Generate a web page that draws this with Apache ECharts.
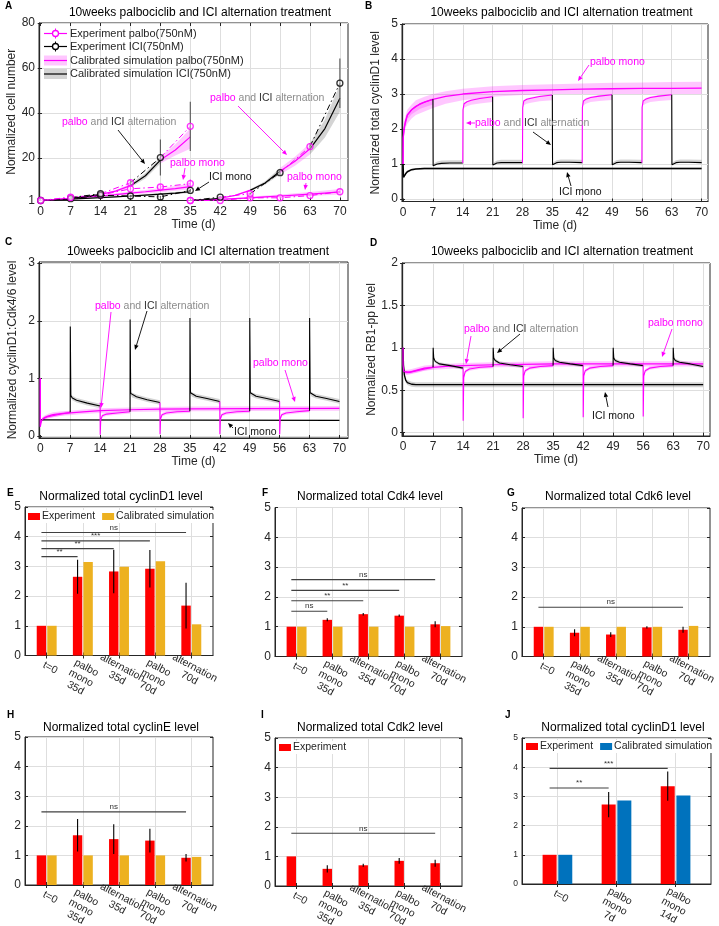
<!DOCTYPE html>
<html><head><meta charset="utf-8">
<script src="https://cdn.jsdelivr.net/npm/echarts@6/dist/echarts.min.js"></script>
<style>html,body{margin:0;padding:0;background:#fff}#c{width:719px;height:926px}</style>
</head><body><div id="c"></div><script>
// ================= DATA =================
const dayTicks = [0,7,14,21,28,35,42,49,56,63,70];
// ---- Panel A: normalized cell number
const weeksA1 = [0,7,14,21,28,35];
const weeksA2 = [35,42,49,56,63,70];
const altExpA1 = [1, 2.3, 4.0, 8.9, 20.1, 34.0];
const altExpA1Err = [0, 0.4, 0.6, 1.2, 8.0, 11.0];
const altExpA2 = [1, 2.5, 4.0, 13.4, 25.0, 53.2];
const altExpA2Err = [0, 0.4, 0.6, 1.0, 1.5, 11.0];
const palboExpA1 = [1, 2.5, 3.4, 6.2, 7.0, 8.5];
const palboExpA1Err = [0, 0.3, 0.4, 0.8, 1.0, 1.8];
const palboExpA2 = [1, 1.0, 2.2, 2.2, 3.2, 4.9];
const palboExpA2Err = [0, 0.2, 0.4, 0.3, 0.4, 0.6];
const iciExpA1 = [1, 1.8, 3.3, 3.0, 2.6, 5.5];
const iciExpA1Err = [0, 0.2, 0.4, 0.4, 0.4, 0.6];
const simTA1 = [0, 3.5, 7, 10.5, 14, 17.5, 21, 24.5, 28, 31.5, 35];
const altSimA1 = [1, 1.45, 2.0, 2.7, 3.7, 5.2, 7.6, 12.0, 19.0, 23.5, 29.3];
const altSimA1Lo = [1, 1.4, 1.9, 2.5, 3.4, 4.7, 6.8, 10.8, 17.5, 21.0, 24.0];
const altSimA1Hi = [1, 1.5, 2.1, 2.9, 4.0, 5.7, 8.4, 13.2, 20.6, 26.0, 33.0];
const palboSimA1 = [1, 1.45, 2.0, 2.5, 3.0, 3.6, 4.3, 4.9, 5.6, 6.3, 7.2];
const palboSimA1Lo = [1, 1.35, 1.8, 2.2, 2.6, 3.1, 3.6, 4.1, 4.7, 5.3, 6.0];
const palboSimA1Hi = [1, 1.6, 2.3, 2.9, 3.5, 4.2, 5.0, 5.7, 6.6, 7.5, 8.6];
const iciSimA1 = [1, 1.3, 1.6, 1.95, 2.3, 2.65, 3.0, 3.4, 3.8, 4.3, 4.9];
const iciSimA1Lo = [1, 1.25, 1.5, 1.8, 2.1, 2.4, 2.7, 3.0, 3.4, 3.8, 4.3];
const iciSimA1Hi = [1, 1.35, 1.7, 2.1, 2.5, 2.9, 3.3, 3.8, 4.3, 4.8, 5.6];
const simTA2 = [35, 38.5, 42, 45.5, 49, 52.5, 56, 59.5, 63, 66.5, 70];
const altSimA2 = [1, 1.4, 2.0, 3.3, 5.5, 8.8, 14.0, 18.5, 24.0, 33.0, 46.5];
const altSimA2Lo = [1, 1.35, 1.85, 3.0, 5.0, 8.0, 12.6, 16.5, 21.5, 29.0, 40.5];
const altSimA2Hi = [1, 1.45, 2.15, 3.6, 6.0, 9.6, 15.5, 20.5, 26.5, 37.0, 52.5];
const palboSimA2 = [1, 1.25, 1.5, 1.85, 2.2, 2.6, 3.0, 3.4, 3.8, 4.3, 4.8];
const palboSimA2Lo = [1, 1.15, 1.3, 1.55, 1.8, 2.1, 2.4, 2.7, 3.0, 3.3, 3.7];
const palboSimA2Hi = [1, 1.4, 1.8, 2.2, 2.7, 3.2, 3.7, 4.2, 4.8, 5.4, 6.1];

// ---- Panel B: total cyclinD1
const palboTB = [0, 0.05, 0.2, 0.5, 1, 2, 3, 5, 7, 10, 14, 21, 28, 35, 42, 49, 56, 63, 70];
const palboB = [1, 1.75, 2.0, 2.2, 2.4, 2.55, 2.65, 2.77, 2.85, 2.93, 3.0, 3.07, 3.1, 3.12, 3.14, 3.15, 3.16, 3.16, 3.17];
const palboBLo = [1, 1.6, 1.8, 2.0, 2.15, 2.3, 2.4, 2.5, 2.6, 2.72, 2.82, 2.92, 2.97, 3.0, 3.0, 3.0, 3.0, 3.0, 3.0];
const palboBHi = [1, 1.9, 2.15, 2.35, 2.55, 2.7, 2.82, 2.92, 3.0, 3.08, 3.15, 3.22, 3.26, 3.28, 3.3, 3.32, 3.33, 3.34, 3.35];
const iciTB = [0, 0.1, 0.3, 0.6, 1, 2, 3, 5, 70];
const iciB = [1, 0.62, 0.66, 0.72, 0.78, 0.84, 0.86, 0.87, 0.87];
const iciBHw = [0, 0.03, 0.03, 0.03, 0.03, 0.03, 0.03, 0.03, 0.03];
const altOffB = [0, 0.05, 0.3, 1, 2, 4, 7];
const altB = [
  [1, 1.75, 2.05, 2.4, 2.55, 2.72, 2.85],
  [2.85, 0.95, 0.97, 1.0, 1.02, 1.03, 1.03],
  [1.03, 2.55, 2.72, 2.78, 2.82, 2.87, 2.92],
  [2.92, 0.97, 1.0, 1.03, 1.04, 1.04, 1.04],
  [1.04, 2.6, 2.8, 2.85, 2.88, 2.93, 2.97],
  [2.97, 0.98, 1.01, 1.04, 1.05, 1.05, 1.04],
  [1.04, 2.62, 2.8, 2.86, 2.9, 2.94, 2.98],
  [2.98, 0.98, 1.01, 1.04, 1.05, 1.05, 1.04],
  [1.04, 2.62, 2.8, 2.86, 2.9, 2.94, 2.98],
  [2.98, 0.98, 1.01, 1.04, 1.05, 1.05, 1.04]
];
const altBandB = {blkLo:[0,0,0.02,0.02,0.02,0.02,0.02], blkHi:[0,0,0.05,0.07,0.08,0.08,0.08],
                  palLo:[0,0,0.12,0.13,0.13,0.14,0.15], palHi:[0,0,0.02,0.03,0.03,0.03,0.03]};

// ---- Panel C: cyclinD1:Cdk4/6
const palboTC = [0, 0.02, 0.1, 0.3, 0.6, 1, 2, 3, 5, 7, 10, 14, 21, 28, 35, 49, 70];
const palboC = [1.0, 0.16, 0.22, 0.27, 0.3, 0.32, 0.35, 0.37, 0.39, 0.4, 0.42, 0.44, 0.455, 0.465, 0.47, 0.475, 0.48];
const palboCHw = [0, 0, 0.02, 0.03, 0.03, 0.035, 0.04, 0.04, 0.04, 0.04, 0.04, 0.04, 0.04, 0.04, 0.04, 0.04, 0.04];
const iciTC = [0, 0.2, 70];
const iciC = [0.28, 0.27, 0.27];
const altOffC = [0, 0.02, 0.15, 0.5, 1.5, 4, 7];
const altC = [
  [1.0, 0.16, 0.24, 0.29, 0.33, 0.37, 0.41],
  [0.41, 1.9, 0.7, 0.66, 0.62, 0.57, 0.52],
  [0.52, 0.02, 0.28, 0.35, 0.38, 0.4, 0.42],
  [0.42, 2.02, 0.74, 0.71, 0.68, 0.63, 0.58],
  [0.58, 0.03, 0.3, 0.37, 0.4, 0.42, 0.43],
  [0.43, 2.05, 0.75, 0.72, 0.69, 0.65, 0.6],
  [0.6, 0.03, 0.3, 0.37, 0.4, 0.42, 0.43],
  [0.43, 2.05, 0.75, 0.72, 0.69, 0.65, 0.6],
  [0.6, 0.03, 0.3, 0.37, 0.4, 0.42, 0.44],
  [0.44, 2.05, 0.75, 0.72, 0.69, 0.65, 0.6]
];
const altBandC = {blkLo:[0,0,0.03,0.04,0.04,0.04,0.04], blkHi:[0,0,0.03,0.04,0.04,0.04,0.04],
                  palLo:[0,0,0.03,0.03,0.03,0.03,0.03], palHi:[0,0,0.03,0.03,0.03,0.03,0.03]};

// ---- Panel D: RB1-pp
const palboTD = [0, 0.05, 0.2, 0.5, 1, 2, 3.5, 5, 7, 10, 14, 21, 28, 35, 49, 70];
const palboD = [1.0, 0.8, 0.72, 0.71, 0.71, 0.72, 0.74, 0.76, 0.77, 0.78, 0.79, 0.8, 0.805, 0.81, 0.81, 0.81];
const palboDHw = [0, 0.02, 0.03, 0.03, 0.03, 0.03, 0.03, 0.03, 0.03, 0.03, 0.03, 0.03, 0.03, 0.03, 0.03, 0.03];
const iciTD = [0, 0.1, 0.3, 0.6, 1, 2, 3, 70];
const iciD = [1.0, 0.8, 0.68, 0.62, 0.59, 0.57, 0.565, 0.565];
const iciDHw = [0, 0.02, 0.03, 0.03, 0.03, 0.03, 0.03, 0.03];
const altOffD = [0, 0.02, 0.15, 0.5, 1.5, 4, 7];
const altD = [
  [1.0, 0.8, 0.72, 0.71, 0.71, 0.74, 0.77],
  [0.77, 1.0, 0.88, 0.84, 0.81, 0.79, 0.76],
  [0.76, 0.14, 0.65, 0.72, 0.75, 0.77, 0.78],
  [0.78, 1.0, 0.88, 0.85, 0.82, 0.8, 0.78],
  [0.78, 0.17, 0.67, 0.73, 0.76, 0.78, 0.79],
  [0.79, 1.0, 0.88, 0.85, 0.83, 0.81, 0.79],
  [0.79, 0.18, 0.67, 0.73, 0.76, 0.78, 0.79],
  [0.79, 1.0, 0.88, 0.85, 0.83, 0.81, 0.79],
  [0.79, 0.19, 0.67, 0.73, 0.76, 0.78, 0.79],
  [0.79, 1.0, 0.88, 0.85, 0.83, 0.81, 0.78]
];
const altBandD = {blkLo:[0,0,0.02,0.02,0.02,0.02,0.02], blkHi:[0,0,0.02,0.02,0.02,0.02,0.02],
                  palLo:[0,0,0.02,0.02,0.02,0.02,0.02], palHi:[0,0,0.02,0.02,0.02,0.02,0.02]};

// ---- Bar panels
const catsE = ['t=0','palbo\nmono\n35d','alternation\n35d','palbo\nmono\n70d','alternation\n70d'];
const expE = [1, 2.65, 2.83, 2.92, 1.68];
const expEErr = [0, 0.57, 0.73, 0.63, 0.77];
const simE = [1, 3.15, 2.99, 3.17, 1.05];
const sigE = [[1,2,3.33,'**'],[1,3,3.6,'**'],[1,4,3.86,'***'],[1,5,4.14,'ns']];
const expF = [1, 1.23, 1.42, 1.37, 1.08];
const expFErr = [0, 0.05, 0.04, 0.04, 0.1];
const simF = [1, 1, 1, 1, 1.02];
const sigF = [[1,2,1.52,'ns'],[1,3,1.87,'**'],[1,4,2.22,'**'],[1,5,2.58,'ns']];
const expG = [1, 0.8, 0.74, 0.98, 0.9];
const expGErr = [0, 0.12, 0.08, 0.04, 0.1];
const simG = [1, 1, 1, 1, 1.03];
const sigG = [[1,5,1.66,'ns']];
const expH = [1, 1.68, 1.55, 1.5, 0.92];
const expHErr = [0, 0.55, 0.5, 0.4, 0.13];
const simH = [1, 1, 1, 1, 0.95];
const sigH = [[1,5,2.47,'ns']];
const expI = [1, 0.58, 0.7, 0.85, 0.77];
const expIErr = [0, 0.12, 0.05, 0.1, 0.12];
const sigI = [[1,5,1.78,'ns']];
const catsJ = ['t=0','palbo\nmono\n7d','palbo\nmono\n14d'];
const expJ = [1, 2.72, 3.35];
const expJErr = [0, 0.43, 0.5];
const simJ = [1, 2.86, 3.03];
const sigJ = [[1,2,3.29,'**'],[1,3,3.96,'***']];

// ================= STYLE / HELPERS =================
const FONT = '"Liberation Sans", Arial, Helvetica, sans-serif';
const AX = '#262626', GRID = '#dedede';
const PAL = '#FF00FF', BLK = '#000000';
const PINK = 'rgba(255,0,255,0.22)', GRAY = 'rgba(0,0,0,0.17)';
const RED = '#FF0000', YEL = '#EDB120', BLU = '#0072BD';
const DASHDOT = [6,3,1.5,3];

const grids = [], xAxes = [], yAxes = [], series = [], legends = [], graphics = [];

function panel(c) {
  const gi = grids.length;
  grids.push({left:c.left, top:c.top, width:c.width, height:c.height, show:true,
    borderColor:AX, borderWidth:1, backgroundColor:'#fff'});
  const xi = xAxes.length, yi = yAxes.length;
  const tick = vals => ({show:true, inside:true, length:3, customValues:vals, lineStyle:{color:AX}});
  xAxes.push({type:'value', gridIndex:gi, min:c.xmin, max:c.xmax, position:'bottom',
    axisLine:{show:true, onZero:false, lineStyle:{color:AX}},
    axisTick:tick(c.xticks),
    axisLabel: c.xhide ? {show:false} : {customValues:c.xticks, color:AX, fontSize:12, fontFamily:FONT,
      margin:5, showMinLabel:true, showMaxLabel:true},
    splitLine:{show:true, lineStyle:{color:GRID}},
    name:c.xname||'', nameLocation:'middle', nameGap:c.xnameGap||18,
    nameTextStyle:{color:AX, fontSize:12, fontFamily:FONT}});
  xAxes.push({type:'value', gridIndex:gi, min:c.xmin, max:c.xmax, position:'top',
    axisLine:{show:false}, axisTick:tick(c.xticks), axisLabel:{show:false}, splitLine:{show:false}});
  yAxes.push({type:'value', gridIndex:gi, min:c.ymin, max:c.ymax, position:'left',
    axisLine:{show:true, onZero:false, lineStyle:{color:AX}},
    axisTick:tick(c.yticks),
    axisLabel:{customValues:c.yticks, color:AX, fontSize:c.yfs||12, fontFamily:FONT, margin:4,
      showMinLabel:true, showMaxLabel:true},
    splitLine:{show:true, lineStyle:{color:GRID}},
    name:c.yname||'', nameLocation:'middle', nameGap:c.ynameGap||20,
    nameTextStyle:{color:AX, fontSize:12, fontFamily:FONT}});
  yAxes.push({type:'value', gridIndex:gi, min:c.ymin, max:c.ymax, position:'right',
    axisLine:{show:false}, axisTick:tick(c.yticks), axisLabel:{show:false}, splitLine:{show:false}});
  return {xi, yi};
}

function pair(ts, vs) { return ts.map((t, i) => [t, vs[i]]); }
function lineS(ax, ts, vs, color, width, dash, z) {
  return {type:'line', xAxisIndex:ax.xi, yAxisIndex:ax.yi, data:pair(ts, vs), symbol:'none',
    showSymbol:false, lineStyle:{color, width:width||1.2, type:dash||'solid'}, itemStyle:{color},
    z:z||3, silent:true, animation:false};
}
function band(ax, ts, lo, hi, color) {
  return {type:'custom', xAxisIndex:ax.xi, yAxisIndex:ax.yi, silent:true, z:1,
    data:[[ts[0], lo[0]]], encode:{x:0, y:1},
    renderItem: function (params, api) {
      const pts = [];
      for (let i = 0; i < ts.length; i++) pts.push(api.coord([ts[i], hi[i]]));
      for (let i = ts.length - 1; i >= 0; i--) pts.push(api.coord([ts[i], lo[i]]));
      return {type:'polygon', shape:{points:pts}, style:{fill:color}};
    }};
}
function errS(ax, ts, vs, es, color, offsetPx, z) {
  return {type:'custom', xAxisIndex:ax.xi, yAxisIndex:ax.yi, silent:true, z:z||5,
    data: ts.map((t, i) => [t, vs[i], es[i]]), encode:{x:0, y:1},
    renderItem: function (params, api) {
      const t = api.value(0), v = api.value(1), e = api.value(2);
      if (!e) return null;
      const p1 = api.coord([t, v - e]), p2 = api.coord([t, v + e]);
      return {type:'line', shape:{x1:p1[0] + offsetPx, y1:p1[1], x2:p2[0] + offsetPx, y2:p2[1]},
        style:{stroke:color, lineWidth:1.1}};
    }};
}
function markS(ax, ts, vs, colors, size) {
  return {type:'scatter', xAxisIndex:ax.xi, yAxisIndex:ax.yi, silent:true, z:6, symbol:'circle',
    symbolSize:size||6,
    data: ts.map((t, i) => ({value:[t, vs[i]], itemStyle:{color:'rgba(255,255,255,0.5)', borderColor:colors[i], borderWidth:1.3}}))};
}
function sigS(ax, sig, offsetPx) {
  return {type:'custom', xAxisIndex:ax.xi, yAxisIndex:ax.yi, silent:true, z:7,
    data: sig.map(s => [s[0], s[2], s[1]]), encode:{x:0, y:1},
    renderItem: function (params, api) {
      const s = sig[params.dataIndex];
      const p1 = api.coord([s[0], s[2]]), p2 = api.coord([s[1], s[2]]);
      return {type:'group', children:[
        {type:'line', shape:{x1:p1[0] + offsetPx, y1:p1[1], x2:p2[0] + offsetPx, y2:p1[1]}, style:{stroke:'#404040', lineWidth:1.1}},
        {type:'text', x:(p1[0] + p2[0]) / 2 + offsetPx, y:p1[1] - 1,
          style:{text:s[3], align:'center', verticalAlign:'bottom', fontSize:8, fontFamily:FONT, fill:'#333'}}
      ]};
    }};
}
// rotated multi-line category labels, positioned through the x axis scale
function catLabelS(ax, cats) {
  return {type:'custom', xAxisIndex:ax.xi, yAxisIndex:ax.yi, silent:true, z:8, clip:false,
    data: cats.map((c, i) => [i + 1, 0]), encode:{x:0, y:1},
    renderItem: function (params, api) {
      const p = api.coord([api.value(0), 0]);
      return {type:'text', x:p[0], y:p[1] + 4, rotation:-28 * Math.PI / 180,
        style:{text:cats[params.dataIndex], align:'center', verticalAlign:'top', fontSize:10.5,
          lineHeight:11.5, fontFamily:FONT, fill:AX, padding:[0, 0, 0, 14]}};
    }};
}
const weekColor = k => (k % 2 === 0 ? PAL : BLK);
function weekSplit(ts) {
  const out = [];
  const k0 = Math.floor(ts[0] / 7 + 1e-9), k1 = Math.ceil(ts[ts.length - 1] / 7 - 1e-9);
  for (let k = k0; k < k1; k++) {
    const idx = [];
    ts.forEach((t, i) => { if (t >= 7 * k - 1e-9 && t <= 7 * k + 7 + 1e-9) idx.push(i); });
    if (idx.length >= 2) out.push({k, idx});
  }
  return out;
}
const pick = (arr, idx) => idx.map(i => arr[i]);

// alternation in B/C/D: per-week arrays
function altWeeks(ax, offs, weeks, bandDef, width) {
  weeks.forEach((vals, k) => {
    const ts = offs.map(o => 7 * k + o);
    const pal = k % 2 === 0;
    const lo = vals.map((v, j) => v - (pal ? bandDef.palLo[j] : bandDef.blkLo[j]));
    const hi = vals.map((v, j) => v + (pal ? bandDef.palHi[j] : bandDef.blkHi[j]));
    series.push(band(ax, ts.slice(1), lo.slice(1), hi.slice(1), pal ? PINK : GRAY));
    series.push(lineS(ax, ts, vals, pal ? PAL : BLK, width || 1.1, null, 4));
  });
}

// ================= PANEL A =================
const A = panel({left:39, top:23, width:309, height:177.5, xmin:-0.4, xmax:71.9, xticks:dayTicks,
  ymin:1, ymax:80, yticks:[1,20,40,60,80], xname:'Time (d)', yname:'Normalized cell number', ynameGap:21});
series.push(band(A, simTA1, palboSimA1Lo, palboSimA1Hi, PINK));
series.push(band(A, simTA1, iciSimA1Lo, iciSimA1Hi, GRAY));
series.push(band(A, simTA2, palboSimA2Lo, palboSimA2Hi, PINK));
[[simTA1, altSimA1, altSimA1Lo, altSimA1Hi], [simTA2, altSimA2, altSimA2Lo, altSimA2Hi]].forEach(s => {
  weekSplit(s[0]).forEach(w => {
    series.push(band(A, pick(s[0], w.idx), pick(s[2], w.idx), pick(s[3], w.idx), w.k % 2 === 0 ? PINK : GRAY));
  });
});
series.push(lineS(A, simTA1, palboSimA1, PAL, 1.2));
series.push(lineS(A, simTA1, iciSimA1, BLK, 1.2));
series.push(lineS(A, simTA2, palboSimA2, PAL, 1.2));
[[simTA1, altSimA1], [simTA2, altSimA2]].forEach(s => {
  weekSplit(s[0]).forEach(w => series.push(lineS(A, pick(s[0], w.idx), pick(s[1], w.idx), weekColor(w.k), 1.2, null, 3)));
});
// experiments
series.push(lineS(A, weeksA1, palboExpA1, PAL, 1, DASHDOT, 4));
series.push(lineS(A, weeksA2, palboExpA2, PAL, 1, DASHDOT, 4));
series.push(lineS(A, weeksA1, iciExpA1, BLK, 1, DASHDOT, 4));
[[weeksA1, altExpA1], [weeksA2, altExpA2]].forEach(s => {
  for (let i = 0; i < s[0].length - 1; i++) {
    series.push(lineS(A, [s[0][i], s[0][i + 1]], [s[1][i], s[1][i + 1]], weekColor(Math.round(s[0][i] / 7)), 1, DASHDOT, 4));
  }
});
const endColors = ws => ws.map((t, i) => i === 0 ? PAL : weekColor(Math.round(t / 7) - 1));
series.push(errS(A, weeksA1, palboExpA1, palboExpA1Err, PAL, 0));
series.push(errS(A, weeksA2, palboExpA2, palboExpA2Err, PAL, 0));
series.push(errS(A, weeksA1, iciExpA1, iciExpA1Err, BLK, 0));
series.push(errS(A, weeksA1, altExpA1, altExpA1Err, '#555', 0));
series.push(errS(A, weeksA2, altExpA2, altExpA2Err, '#555', 0));
series.push(markS(A, weeksA1, palboExpA1, weeksA1.map(() => PAL)));
series.push(markS(A, weeksA2, palboExpA2, weeksA2.map(() => PAL)));
series.push(markS(A, weeksA1, iciExpA1, weeksA1.map(() => BLK)));
series.push(markS(A, weeksA1, altExpA1, endColors(weeksA1)));
series.push(markS(A, weeksA2, altExpA2, endColors(weeksA2)));

// ================= PANEL B =================
const B = panel({left:402, top:24, width:306, height:177.5, xmin:-0.25, xmax:71.5, xticks:dayTicks,
  ymin:-0.07, ymax:5, yticks:[0,1,2,3,4,5], xname:'Time (d)', yname:'Normalized total cyclinD1 level'});
series.push(band(B, palboTB, palboBLo, palboBHi, PINK));
series.push(band(B, iciTB, iciB.map((v, i) => v - iciBHw[i]), iciB.map((v, i) => v + iciBHw[i]), GRAY));
series.push(lineS(B, palboTB, palboB, PAL, 1.3));
series.push(lineS(B, iciTB, iciB, BLK, 1.5));
altWeeks(B, altOffB, altB, altBandB, 1.1);

// ================= PANEL C =================
const C = panel({left:39, top:262, width:309, height:176, xmin:-0.3, xmax:72, xticks:dayTicks,
  ymin:-0.035, ymax:3.02, yticks:[0,1,2,3], xname:'Time (d)', yname:'Normalized cyclinD1:Cdk4/6 level'});
series.push(band(C, palboTC.slice(1), palboC.slice(1).map((v, i) => v - palboCHw[i + 1]), palboC.slice(1).map((v, i) => v + palboCHw[i + 1]), PINK));
series.push(lineS(C, palboTC, palboC, PAL, 1.2));
series.push(lineS(C, iciTC, iciC, BLK, 1.3));
altWeeks(C, altOffC, altC, altBandC, 1.1);

// ================= PANEL D =================
const D = panel({left:402, top:263, width:308, height:173, xmin:-0.25, xmax:71.6, xticks:dayTicks,
  ymin:-0.04, ymax:2, yticks:[0,0.5,1,1.5,2], xname:'Time (d)', yname:'Normalized RB1-pp level'});
series.push(band(D, palboTD, palboD.map((v, i) => v - palboDHw[i]), palboD.map((v, i) => v + palboDHw[i]), PINK));
series.push(band(D, iciTD, iciD.map((v, i) => v - iciDHw[i]), iciD.map((v, i) => v + iciDHw[i]), GRAY));
series.push(lineS(D, palboTD, palboD, PAL, 1.2));
series.push(lineS(D, iciTD, iciD, BLK, 1.3));
altWeeks(D, altOffD, altD, altBandD, 1.1);

// ================= BAR PANELS =================
function barPanel(id, box, cats, exp, expErr, sim, simColor, sig, barW, yfs, legendItems, legendPos) {
  const n = cats.length;
  const ticks = cats.map((c, i) => i + 1);
  const ax = panel({left:box[0], top:box[1], width:box[2], height:box[3], xmin:0.4, xmax:n + 0.6,
    xticks:ticks, xhide:true, ymin:0, ymax:5, yticks:[0,1,2,3,4,5], yfs:yfs});
  const gap = 0.12;
  const off = -(barW * (1 + gap)) / 2;
  series.push({type:'bar', name:id + '|Experiment', xAxisIndex:ax.xi, yAxisIndex:ax.yi, barWidth:barW,
    barGap:(gap * 100) + '%', data:pair(ticks, exp), itemStyle:{color:RED}, z:2, silent:true});
  series.push({type:'bar', name:id + '|Calibrated simulation', xAxisIndex:ax.xi, yAxisIndex:ax.yi, barWidth:barW,
    barGap:(gap * 100) + '%', data:sim ? pair(ticks, sim) : [], itemStyle:{color:simColor || YEL}, z:2, silent:true});
  series.push(errS(ax, ticks, exp, expErr, '#000', off, 6));
  series.push(sigS(ax, sig, off));
  series.push(catLabelS(ax, cats));
  if (legendItems) {
    legends.push({left:legendPos[0], top:legendPos[1], itemWidth:12, itemHeight:7, itemGap:7,
      padding:[1, 2, 1, 2], backgroundColor:'#fff', icon:'rect', selectedMode:false,
      textStyle:{fontSize:10.5, color:AX, fontFamily:FONT, padding:[0, 0, 0, -3]},
      formatter:name => name.split('|')[1],
      data:legendItems.map(s => id + '|' + s)});
  }
}
barPanel('E', [25, 507, 188, 148.5], catsE, expE, expEErr, simE, YEL, sigE, 9.4, 12, ['Experiment', 'Calibrated simulation'], [26, 510]);
barPanel('F', [275, 507.5, 187, 149], catsE, expF, expFErr, simF, YEL, sigF, 9.4, 12, null);
barPanel('G', [522, 508, 188, 148.5], catsE, expG, expGErr, simG, YEL, sigG, 9.4, 12, null);
barPanel('H', [25, 737, 188, 148], catsE, expH, expHErr, simH, YEL, sigH, 9.4, 12, null);
barPanel('I', [275, 738, 187, 148], catsE, expI, expIErr, null, YEL, sigI, 9.4, 12, ['Experiment'], [277, 741]);
barPanel('J', [522, 738, 189, 146], catsJ, expJ, expJErr, simJ, BLU, sigJ, 14, 8.5, ['Experiment', 'Calibrated simulation'], [524, 740]);

// ================= TEXT / ANNOTATIONS =================
function txt(x, y, s, opt) {
  graphics.push({type:'text', x, y, silent:true, z:50, style:Object.assign({text:s, fontFamily:FONT, fontSize:12,
    fill:'#000', align:'center', verticalAlign:'middle'}, opt || {})});
}
function arrow(x1, y1, x2, y2, color) {
  const ang = Math.atan2(y2 - y1, x2 - x1), L = 5, W = 2.2;
  const bx = x2 - L * Math.cos(ang), by = y2 - L * Math.sin(ang);
  const px = -Math.sin(ang) * W, py = Math.cos(ang) * W;
  graphics.push({type:'line', silent:true, z:50, shape:{x1, y1, x2:bx, y2:by}, style:{stroke:color, lineWidth:0.9}});
  graphics.push({type:'polygon', silent:true, z:50, shape:{points:[[x2, y2], [bx + px, by + py], [bx - px, by - py]]}, style:{fill:color}});
}
const RICH = {p:{fill:PAL, fontSize:10.5, fontFamily:FONT}, g:{fill:'#8c8c8c', fontSize:10.5, fontFamily:FONT}, k:{fill:'#333', fontSize:10.5, fontFamily:FONT}};
function altLabel(x, y) {
  graphics.push({type:'text', x, y, silent:true, z:50, style:{text:'{p|palbo} {g|and} {k|ICI} {g|alternation}', rich:RICH,
    align:'left', verticalAlign:'middle', fontSize:10.5, fontFamily:FONT}});
}
const T10 = '10weeks palbociclib and ICI alternation treatment';
txt(200, 12.5, T10); txt(561.5, 12.5, T10); txt(198, 252, T10); txt(562, 252, T10);
txt(121, 497, 'Normalized total cyclinD1 level'); txt(370, 497, 'Normalized total Cdk4 level');
txt(618, 497, 'Normalized total Cdk6 level'); txt(121, 728, 'Normalized total cyclinE level');
txt(370, 728, 'Normalized total Cdk2 level'); txt(623, 728, 'Normalized total cyclinD1 level');
[['A',5,6],['B',365,6],['C',5,242],['D',370,243],['E',7,493],['F',262,493],['G',507,493],['H',7,715],['I',261,715],['J',505,715]]
  .forEach(l => txt(l[1], l[2], l[0], {fontWeight:'bold', fontSize:10, align:'left'}));

// Panel A legend
const legA = [
  {y:33.5, t:'Experiment palbo(750nM)', c:PAL, kind:'exp'},
  {y:46.5, t:'Experiment ICI(750nM)', c:BLK, kind:'exp'},
  {y:60.5, t:'Calibrated simulation palbo(750nM)', c:PAL, kind:'sim', f:PINK},
  {y:74, t:'Calibrated simulation ICI(750nM)', c:BLK, kind:'sim', f:GRAY}
];
legA.forEach(r => {
  if (r.kind === 'sim') graphics.push({type:'rect', silent:true, z:50, shape:{x:44, y:r.y - 5, width:23, height:10}, style:{fill:r.f}});
  graphics.push({type:'line', silent:true, z:51, shape:{x1:44, y1:r.y, x2:67, y2:r.y}, style:{stroke:r.c, lineWidth:1.2}});
  if (r.kind === 'exp') {
    graphics.push({type:'line', silent:true, z:51, shape:{x1:55.5, y1:r.y - 5, x2:55.5, y2:r.y + 5}, style:{stroke:r.c, lineWidth:1}});
    graphics.push({type:'circle', silent:true, z:52, shape:{cx:55.5, cy:r.y, r:3}, style:{fill:'#fff', stroke:r.c, lineWidth:1.3}});
  }
  txt(70, r.y, r.t, {align:'left', fontSize:11, fill:AX});
});

// Annotations A
altLabel(62, 122); arrow(118, 130, 145, 164, BLK);
txt(170, 163, 'palbo mono', {align:'left', fontSize:10.5, fill:PAL}); arrow(185, 168, 183, 180, PAL);
txt(209, 177, 'ICI mono', {align:'left', fontSize:10.5, fill:'#111'}); arrow(209, 182, 195, 191, BLK);
altLabel(210, 98); arrow(238, 106, 287, 155, PAL);
txt(287, 177, 'palbo mono', {align:'left', fontSize:10.5, fill:PAL}); arrow(306, 183, 305, 190, PAL);
// Annotations B
txt(590, 62, 'palbo mono', {align:'left', fontSize:10.5, fill:PAL}); arrow(589, 65, 578, 81, PAL);
altLabel(475, 123); arrow(475, 123, 466, 123, PAL); arrow(533, 132, 551, 145, BLK);
txt(559, 192, 'ICI mono', {align:'left', fontSize:10.5, fill:'#111'}); arrow(571, 186, 567, 172, BLK);
// Annotations C
altLabel(95, 306); arrow(147, 311, 135, 350, BLK); arrow(111, 312, 101, 408, PAL);
txt(253, 363, 'palbo mono', {align:'left', fontSize:10.5, fill:PAL}); arrow(285, 370, 295, 402, PAL);
txt(234, 432, 'ICI mono', {align:'left', fontSize:10.5, fill:'#111'}); arrow(233, 428, 228, 423, BLK);
// Annotations D
altLabel(464, 329); arrow(520, 334, 497, 353, BLK); arrow(471, 336, 466, 364, PAL);
txt(648, 323, 'palbo mono', {align:'left', fontSize:10.5, fill:PAL}); arrow(672, 329, 662, 357, PAL);
txt(592, 416, 'ICI mono', {align:'left', fontSize:10.5, fill:'#111'}); arrow(608, 407, 605, 392, BLK);

const chart = echarts.init(document.getElementById('c'), null, {renderer:'canvas'});
chart.setOption({animation:false, backgroundColor:'#fff', textStyle:{fontFamily:FONT},
  grid:grids, xAxis:xAxes, yAxis:yAxes, series:series, legend:legends, graphic:graphics});
</script></body></html>
